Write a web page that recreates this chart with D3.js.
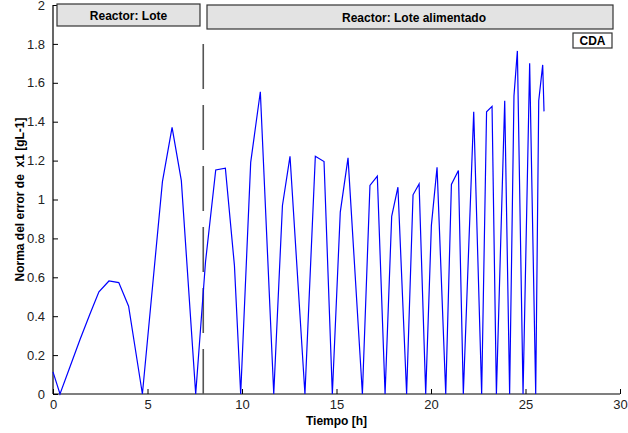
<!DOCTYPE html>
<html>
<head>
<meta charset="utf-8">
<script src="https://cdn.jsdelivr.net/npm/d3@7"></script>
<style>
  html, body { margin: 0; padding: 0; background: #fff; }
  svg { display: block; font-family: "Liberation Sans", Arial, sans-serif; }
</style>
</head>
<body>
<svg id="chart" width="628" height="433"></svg>
<script>
// Time samples [h] and error norm of x1 [g/L]
const tiempo = [0, 0.37, 0.9, 1.43, 1.95, 2.43, 2.96, 3.48, 4.0, 4.73,
  5.79, 6.30, 6.79, 7.55, 8.07, 8.61, 9.12, 9.6, 9.93,
  10.46, 10.97, 11.68, 12.14, 12.54, 13.33, 13.88, 14.34, 14.78,
  15.2, 15.61, 16.37, 16.77, 17.16, 17.57, 17.92, 18.25, 18.71,
  19.05, 19.37, 19.72, 20.02, 20.32, 20.78, 21.08, 21.45, 21.71,
  22.26, 22.68, 22.94, 23.23, 23.46, 23.90, 24.16, 24.39, 24.57,
  24.87, 25.22, 25.54, 25.70, 25.91, 25.98];
const errorX1 = [0.114, 0, 0.14, 0.28, 0.41, 0.525, 0.581, 0.573, 0.451, 0,
  1.092, 1.371, 1.097, 0, 0.68, 1.152, 1.161, 0.66, 0,
  1.191, 1.554, 0, 0.969, 1.222, 0, 1.222, 1.195, 0,
  0.935, 1.214, 0, 1.072, 1.12, 0, 0.913, 1.063, 0,
  1.024, 1.08, 0, 0.867, 1.166, 0, 1.077, 1.149, 0,
  1.451, 0, 1.451, 1.479, 0, 1.508, 0, 1.533, 1.764,
  0, 1.70, 0, 1.508, 1.692, 1.453];

const xTicks = [0, 5, 10, 15, 20, 25, 30];
const yTicks = [0, 0.2, 0.4, 0.6, 0.8, 1, 1.2, 1.4, 1.6, 1.8, 2];

// Switch from batch to fed-batch operation [h]
const cambioReactor = 7.95;
const etiquetasFase = ["Reactor: Lote", "Reactor: Lote alimentado"];
const etiquetaMetodo = "CDA";

const svg = d3.select("#chart");
const m = { left: 53, right: 620, top: 5, bottom: 394 };

const x = d3.scaleLinear().domain([0, 30]).range([m.left, m.right]);
const y = d3.scaleLinear().domain([0, 2]).range([m.bottom, m.top]);

// Axes with inward ticks
const xAxis = d3.axisBottom(x).tickValues(xTicks).tickSize(-5).tickPadding(6)
  .tickFormat(d3.format("d"));
const yAxis = d3.axisLeft(y).tickValues(yTicks).tickSize(-5).tickPadding(8)
  .tickFormat(d => d3.format("~g")(d));

const gx = svg.append("g").attr("transform", `translate(0,${m.bottom})`).call(xAxis);
const gy = svg.append("g").attr("transform", `translate(${m.left},0)`).call(yAxis);
[gx, gy].forEach(g => {
  g.select(".domain").attr("stroke", "#000").attr("stroke-width", 1.2);
  g.selectAll(".tick line").attr("stroke", "#000").attr("stroke-width", 1);
  g.selectAll(".tick text").attr("fill", "#222").style("font-size", "13px")
    .style("font-family", "'Liberation Sans', Arial, sans-serif");
});
gx.select(".domain").attr("d", `M${m.left},0H${m.right}`);
gy.select(".domain").attr("d", `M0,${m.bottom}V${m.top}`);

// Axis titles
svg.append("text")
  .attr("x", x(15)).attr("y", 425)
  .attr("text-anchor", "middle")
  .style("font-size", "12px").style("font-weight", "bold")
  .text("Tiempo [h]");
svg.append("text")
  .attr("transform", `translate(24,${(m.top + m.bottom) / 2}) rotate(-90)`)
  .attr("text-anchor", "middle")
  .style("font-size", "12px").style("font-weight", "bold")
  .style("white-space", "pre")
  .text("Norma del error de  x1 [gL-1]");

// Phase change marker
svg.append("line")
  .attr("x1", x(cambioReactor)).attr("x2", x(cambioReactor))
  .attr("y1", y(1.8)).attr("y2", y(0))
  .attr("stroke", "#555").attr("stroke-width", 1.6)
  .attr("stroke-dasharray", "45,16");

// Error norm trace
const line = d3.line().x((d, i) => x(tiempo[i])).y(d => y(d));
svg.append("path")
  .datum(errorX1)
  .attr("d", line)
  .attr("fill", "none")
  .attr("stroke", "#0000ff")
  .attr("stroke-width", 1.2)
  .attr("stroke-linejoin", "miter");

// Phase header boxes
const cajas = [
  { x0: 57, x1: 200, y0: 4, y1: 26, texto: etiquetasFase[0] },
  { x0: 207, x1: 613, y0: 5, y1: 29, texto: etiquetasFase[1] }
];
cajas.forEach(c => {
  svg.append("rect")
    .attr("x", c.x0).attr("y", c.y0)
    .attr("width", c.x1 - c.x0).attr("height", c.y1 - c.y0)
    .attr("fill", "#e3e3e3").attr("stroke", "#333").attr("stroke-width", 1.2);
  svg.append("text")
    .attr("x", (c.x0 + c.x1) / 2 + (c.x1 - c.x0 > 300 ? 4 : 0))
    .attr("y", (c.y0 + c.y1) / 2 + 4.5)
    .attr("text-anchor", "middle")
    .style("font-size", "12px").style("font-weight", "bold")
    .text(c.texto);
});

// Method tag
svg.append("rect")
  .attr("x", 573).attr("y", 33).attr("width", 39).attr("height", 15)
  .attr("fill", "#fff").attr("stroke", "#333").attr("stroke-width", 1.2);
svg.append("text")
  .attr("x", 592.5).attr("y", 45)
  .attr("text-anchor", "middle")
  .style("font-size", "12px").style("font-weight", "bold")
  .text(etiquetaMetodo);
</script>
</body>
</html>
